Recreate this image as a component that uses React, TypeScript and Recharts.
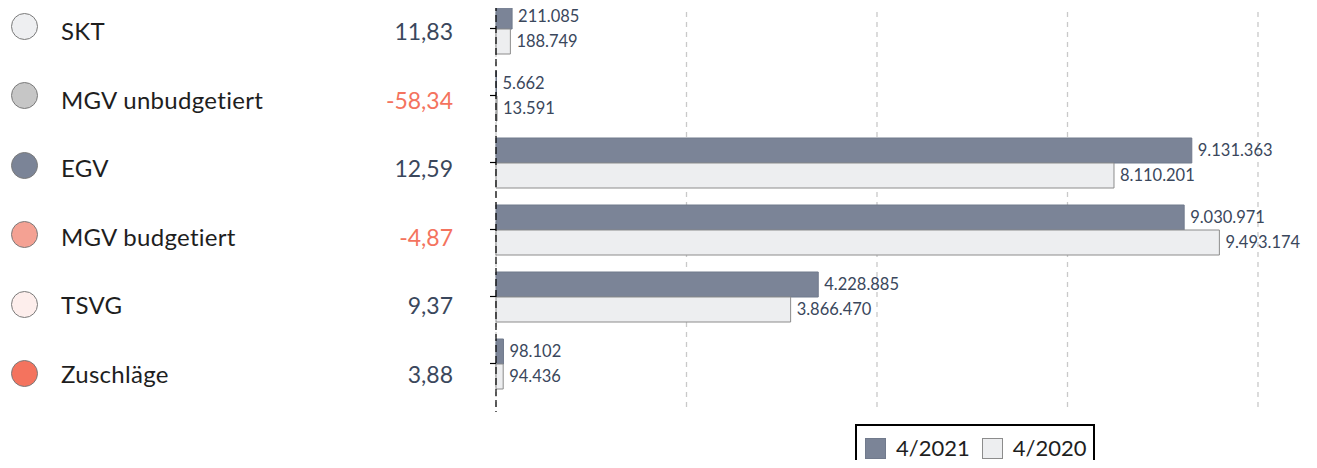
import React from 'react'
import {
  BarChart,
  Bar,
  XAxis,
  YAxis,
  CartesianGrid,
  LabelList,
  Legend,
} from 'recharts'

const categories = ['SKT', 'MGV unbudgetiert', 'EGV', 'MGV budgetiert', 'TSVG', 'Zuschläge']
const values2021 = [211085, 5662, 9131363, 9030971, 4228885, 98102]
const values2020 = [188749, 13591, 8110201, 9493174, 3866470, 94436]
const changes = [11.83, -58.34, 12.59, -4.87, 9.37, 3.88]
const dotColors = ['#EEEFF1', '#C6C6C6', '#7B8497', '#F4A193', '#FDEEEC', '#F4735E']
const xTicks = [0, 2500000, 5000000, 7500000, 10000000]

const series = [
  { key: 'y2021', name: '4/2021', fill: '#7B8497', stroke: '#717A8C' },
  { key: 'y2020', name: '4/2020', fill: '#EDEEF0', stroke: '#8C8C8C' },
]

const data = categories.map((c, i) => ({
  category: c,
  y2021: values2021[i],
  y2020: values2020[i],
}))

const FONT = 'Lato, "Open Sans", sans-serif'
const fmt = (v: number) => String(v).replace(/\B(?=(\d{3})+(?!\d))/g, '.')
const fmtPct = (v: number) => v.toFixed(2).replace('.', ',')

// left list rows (not tied to bar bands in the original either)
const DOT_ROW = 69.5
const TEXT_ROW = 68.6

function SideList() {
  return (
    <div style={{ position: 'absolute', left: 0, top: 0, width: 470, fontFamily: FONT }}>
      {categories.map((c, i) => (
        <React.Fragment key={c}>
          <div
            style={{
              position: 'absolute',
              left: 11,
              top: 12.5 + DOT_ROW * i,
              width: 25,
              height: 25,
              borderRadius: '50%',
              background: dotColors[i],
              border: '1px solid #7a7a7a',
            }}
          />
          <div
            style={{
              position: 'absolute',
              left: 61,
              top: 16 + TEXT_ROW * i,
              fontSize: 24,
              letterSpacing: 0.3,
              lineHeight: '30px',
              color: '#1e1e1e',
            }}
          >
            {c}
          </div>
          <div
            style={{
              position: 'absolute',
              right: 17,
              top: 16 + TEXT_ROW * i,
              fontSize: 23,
              lineHeight: '30px',
              color: changes[i] < 0 ? '#F4735E' : '#3A475C',
            }}
          >
            {fmtPct(changes[i])}
          </div>
        </React.Fragment>
      ))}
    </div>
  )
}

function LegendBox() {
  return (
    <div
      style={{
        border: '2px solid #000',
        width: 240,
        height: 50,
        boxSizing: 'border-box',
        display: 'flex',
        alignItems: 'flex-start',
        paddingTop: 11,
        paddingLeft: 8,
        fontFamily: FONT,
        fontSize: 22,
        color: '#1e1e1e',
      }}
    >
      {series.map((s) => (
        <div key={s.key} style={{ display: 'flex', alignItems: 'center', marginRight: 12 }}>
          <span
            style={{
              display: 'inline-block',
              width: 19,
              height: 19,
              background: s.fill,
              border: `1px solid ${s.stroke}`,
              marginRight: 10,
            }}
          />
          <span style={{ lineHeight: '22px' }}>{s.name}</span>
        </div>
      ))}
    </div>
  )
}

export default function App() {
  return (
    <div style={{ position: 'relative', width: 1317, height: 468, margin: -8, overflow: 'hidden', background: '#fff' }}>
      <SideList />
      <div style={{ position: 'absolute', left: 0, top: -20 }}>
        <BarChart
          width={1317}
          height={437}
          data={data}
          layout="vertical"
          margin={{ top: 2, right: 59, bottom: 5, left: 0 }}
          barSize={25}
          barGap={0}
        >
          <CartesianGrid
            horizontal={false}
            stroke="#C9C9C9"
            strokeDasharray="5 5"
            strokeWidth={1.3}
          />
          <XAxis type="number" hide domain={[0, 10000000]} ticks={xTicks} />
          <YAxis
            type="category"
            dataKey="category"
            width={496}
            padding={{ top: 13, bottom: 15 }}
            axisLine={{ stroke: '#000', strokeDasharray: '7 4', strokeWidth: 1.2 }}
            tickLine={{ stroke: '#000', strokeWidth: 1.2 }}
            tickSize={6}
            tickFormatter={() => ''}
          />
          <Legend
            layout="vertical"
            align="center"
            verticalAlign="middle"
            wrapperStyle={{ left: 855, top: 444, width: 'auto', height: 'auto' }}
            content={<LegendBox />}
          />
          {series.map((s) => (
            <Bar
              key={s.key}
              dataKey={s.key}
              name={s.name}
              fill={s.fill}
              stroke={s.stroke}
              strokeWidth={1}
              isAnimationActive={false}
            >
              <LabelList
                dataKey={s.key}
                position="right"
                offset={6}
                formatter={(v: any) => fmt(Number(v))}
                style={{ fill: '#3A475C', fontSize: 16.5, fontFamily: FONT, stroke: 'none' }}
              />
            </Bar>
          ))}
        </BarChart>
      </div>
    </div>
  )
}
